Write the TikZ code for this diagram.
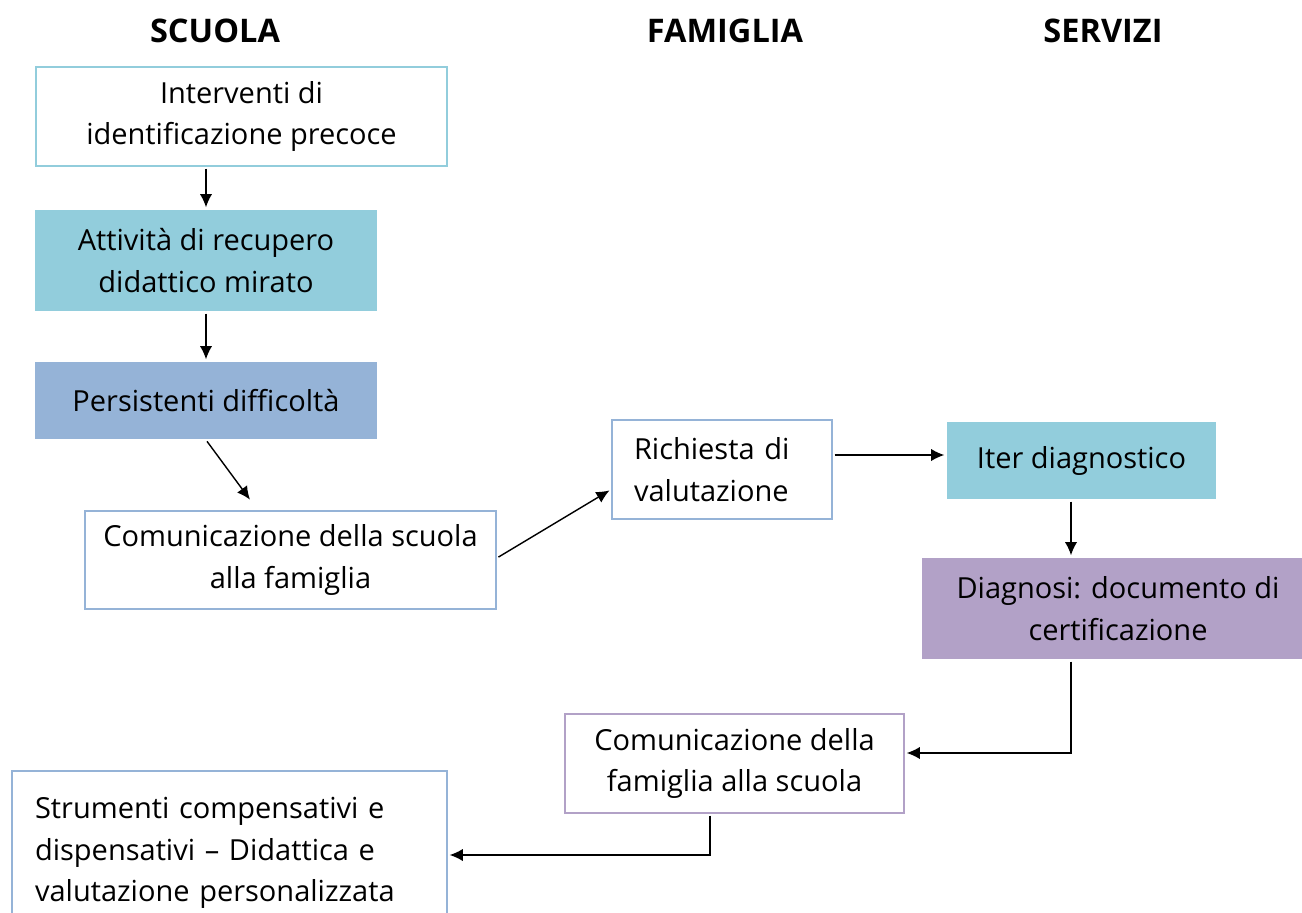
\documentclass[tikz,border=0pt]{standalone}
\usepackage{fontspec}
\setmainfont{Open Sans}
\usetikzlibrary{arrows.meta, calc, positioning}
\definecolor{aqua}{HTML}{92CDDC}
\definecolor{steel}{HTML}{95B3D7}
\definecolor{lilac}{HTML}{B2A1C7}
\tikzset{
	px/.style={x=0.02cm,y=-0.02cm},
	box/.style={
		rectangle, line width=1.1pt,
		text=black, align=center,
		font=\fontsize{16.5}{23.5}\selectfont,
		inner sep=0pt
	},
	filled/.style={box, fill=#1, draw=none},
	framed/.style={box, fill=white, draw=#1},
	head/.style={font=\fontsize{18.5}{22}\selectfont\bfseries},
	arr/.style={-{Latex[length=7.5pt,width=7pt]}, line width=0.8pt, shorten <=1pt, shorten >=1pt}
}
\begin{document}
\begin{tikzpicture}[px]
	\useasboundingbox (0,0) rectangle (1302,913);

	\node[head] (scuola)   at (215,31)  {SCUOLA};
	\node[head] (famiglia) at (725,31)  {FAMIGLIA};
	\node[head] (servizi)  at (1103,31) {SERVIZI};

	\node[framed=aqua, minimum width=8.22cm, minimum height=1.98cm]   (interv)    at (241.5,116.5) {Interventi di\\identificazione precoce};
	\node[filled=aqua, minimum width=6.84cm, minimum height=2.02cm]   (attiv)     at (206,260.5)   {Attività di recupero\\didattico mirato};
	\node[filled=steel, minimum width=6.84cm, minimum height=1.54cm]  (persist)   at (206,400.5)   {Persistenti difficoltà};
	\node[framed=steel, minimum width=8.22cm, minimum height=1.96cm]  (comscuola) at (290.5,560)   {Comunicazione della scuola\\alla famiglia};
	\node[framed=steel, minimum height=1.98cm, align=left, text width=3.52cm, inner xsep=0.44cm] (richiesta) at (722,469.5) {Richiesta di\\valutazione};
	\node[filled=aqua, minimum width=5.38cm, minimum height=1.54cm]   (iter)      at (1081.5,460.5) {Iter diagnostico};
	\node[filled=lilac, minimum width=7.84cm, minimum height=2.02cm]  (diagnosi)  at (1118,608.5)  {Diagnosi: documento di\\certificazione};
	\node[framed=lilac, minimum width=6.78cm, minimum height=1.98cm]  (comfam)    at (734.5,763.5) {Comunicazione della\\famiglia alla scuola};
	\node[framed=steel, minimum height=3.28cm, align=left, text width=7.78cm, inner xsep=0.46cm] (strumenti) at (229.5,853) {Strumenti compensativi e\\dispensativi -- Didattica e\\valutazione personalizzata};

	\draw[arr] (attiv.north |- interv.south) -- (attiv.north);
	\draw[arr] (attiv.south) -- (persist.north);
	\draw[arr] (persist.south) -- ([shift={(3.34cm,0.18cm)}]comscuola.north west);
	\draw[arr] ([yshift=0.04cm]comscuola.east) -- ([yshift=-0.4cm]richiesta.west);
	\draw[arr] ($(iter.west -| richiesta.east)+(0,0.11cm)$) -- ([yshift=0.11cm]iter.west);
	\draw[arr] ([xshift=-0.21cm]iter.south) -- ([xshift=-0.21cm]iter.south |- diagnosi.north);
	\draw[arr] ([xshift=-0.94cm]diagnosi.south) |- ([yshift=0.21cm]comfam.east);
	\draw[arr] ([xshift=-0.49cm]comfam.south) |- ([yshift=-0.04cm]strumenti.east);
\end{tikzpicture}
\end{document}
